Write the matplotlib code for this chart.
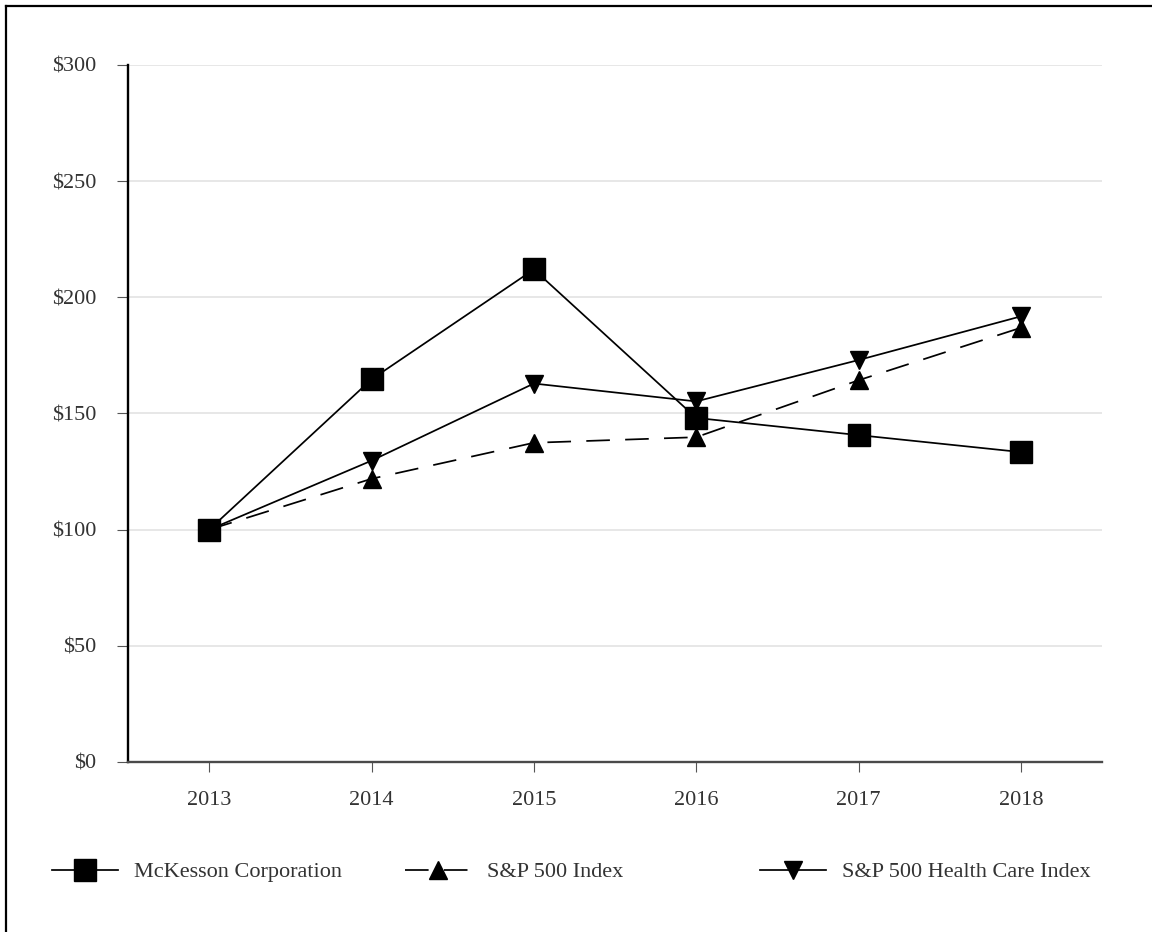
import matplotlib
matplotlib.use('Agg')
import matplotlib.pyplot as plt
from matplotlib.lines import Line2D

# Cumulative total return values
years = [2013, 2014, 2015, 2016, 2017, 2018]
mckesson = [100, 164.7, 212.0, 148.1, 140.7, 133.4]
sp500 = [100, 121.9, 137.4, 139.8, 164.3, 186.9]
sp500_health = [100, 129.7, 162.9, 155.2, 173.0, 191.8]
y_ticks = [0, 50, 100, 150, 200, 250, 300]
y_labels = ['$0', '$50', '$100', '$150', '$200', '$250', '$300']

plt.rcParams['font.family'] = ['Liberation Serif', 'DejaVu Serif']
plt.rcParams['lines.scale_dashes'] = False
text_color = '#333333'

fig = plt.figure(figsize=(11.52, 9.32), dpi=100)
ax = fig.add_axes([128/1152, 1 - 762/932, (1102-128)/1152, (762-65)/932])

# lines, drawn back to front
ax.plot(years, sp500, color='black', lw=1.25, dashes=(17, 11),
        marker='^', markersize=13.5, zorder=3, label='S&P 500 Index')
ax.plot(years, sp500_health, color='black', lw=1.25,
        marker='v', markersize=13.5, zorder=4, label='S&P 500 Health Care Index')
ax.plot(years, mckesson, color='black', lw=1.25,
        marker='s', markersize=15.5, zorder=5, label='McKesson Corporation')

ax.set_xlim(2012.5, 2018.5)
ax.set_ylim(0, 300)
ax.set_xticks(years)
ax.set_xticklabels([str(y) for y in years])
ax.set_yticks(y_ticks)
ax.set_yticklabels(y_labels)

ax.yaxis.grid(True, color='#e3e3e3', lw=1.2)
ax.set_axisbelow(True)

for s in ['top', 'right']:
    ax.spines[s].set_visible(False)
ax.spines['left'].set_color('black')
ax.spines['left'].set_linewidth(1.7)
ax.spines['bottom'].set_color('#4a4a4a')
ax.spines['bottom'].set_linewidth(1.7)

ax.tick_params(axis='y', length=8, width=0.8, color='#555555', pad=15,
               labelsize=16, labelcolor=text_color)
ax.tick_params(axis='x', length=7, width=0.8, color='#555555', pad=14,
               labelsize=16, labelcolor=text_color)

# legend entries placed one by one along the bottom
handles = {h.get_label(): h for h in ax.get_lines()}
order = ['McKesson Corporation', 'S&P 500 Index', 'S&P 500 Health Care Index']
x_starts = [52, 405, 760]
for name, xs in zip(order, x_starts):
    leg = fig.legend([handles[name]], [name], loc='center left',
                     bbox_to_anchor=(xs/1152, 1 - 872/932), frameon=False,
                     borderpad=0, borderaxespad=0, handlelength=2.95,
                     handletextpad=0.75, numpoints=1, fontsize=16)
    for t in leg.get_texts():
        t.set_color(text_color)

# page frame on the left and top
fig.add_artist(Line2D([6/1152, 6/1152], [0, 1 - 6/932], color='black', lw=1.6,
                      transform=fig.transFigure))
fig.add_artist(Line2D([6/1152, 1], [1 - 6/932, 1 - 6/932], color='black', lw=1.6,
                      transform=fig.transFigure))

plt.savefig('out.png', dpi=100)
